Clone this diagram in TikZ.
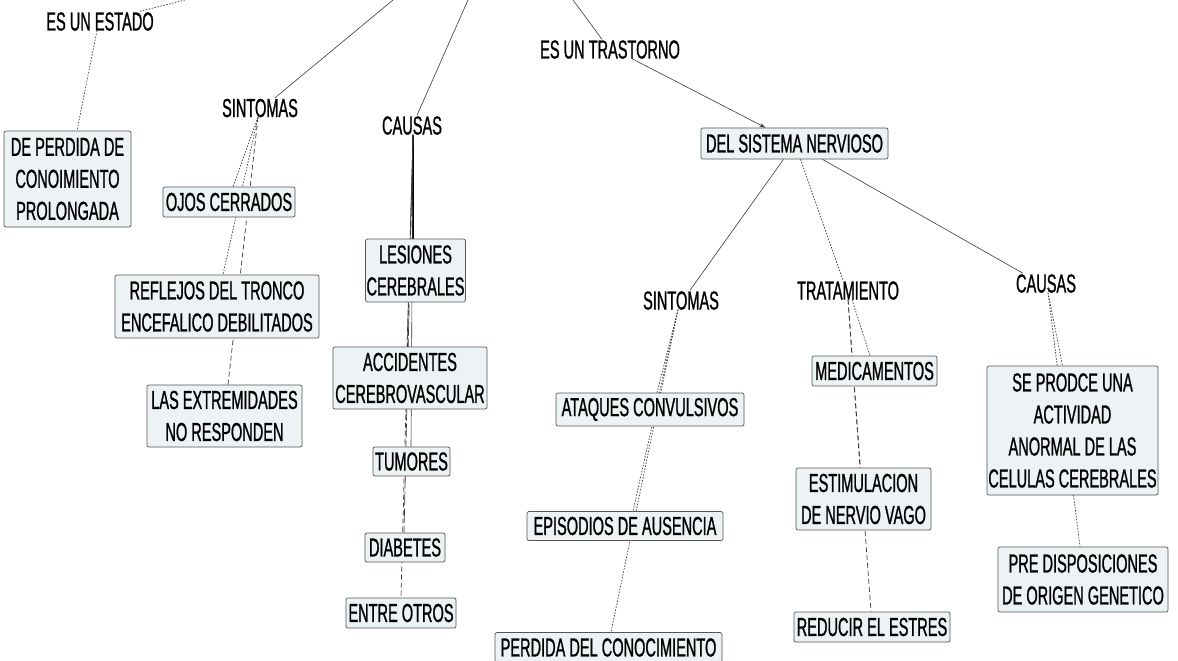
\documentclass[tikz,border=0pt]{standalone}
\usepackage{fontspec}
\setmainfont{Liberation Sans}[FakeStretch=0.56,FakeBold=0.9]
\usetikzlibrary{arrows.meta}
\pgfdeclarelayer{bg}
\pgfdeclarelayer{lines}
\pgfsetlayers{bg,lines,main}
\definecolor{boxfill}{HTML}{EDF2F4}
\definecolor{boxline}{HTML}{555555}
\definecolor{conline}{HTML}{3A3A3A}
\tikzset{
  lbl/.style={inner sep=0pt, text height=19pt, text depth=0pt, font=\fontsize{26}{32}\selectfont},
  bx/.style={draw=boxline, fill=boxfill, rounded corners=2pt, line width=0.7pt, inner sep=1pt,
             align=center, font=\fontsize{26}{32}\selectfont},
  csolid/.style={draw=conline, line width=0.6pt},
  cthick/.style={draw=black, line width=1.3pt},
  cdot/.style={draw=conline, line width=0.7pt, dash pattern=on 1.5pt off 1.5pt},
  cdash/.style={draw=conline, line width=0.7pt, dash pattern=on 5pt off 3pt},
  clong/.style={draw=conline, line width=0.7pt, dash pattern=on 14pt off 3pt},
}
\begin{document}
\begin{tikzpicture}[x=1pt,y=-1pt]
\useasboundingbox (0,0) rectangle (1178,661);
\begin{pgfonlayer}{bg}
\fill[white] (0,0) rectangle (1178,661);
\end{pgfonlayer}
% free ends at the top edge
\coordinate (t1) at (185,0);
\coordinate (t2) at (393,0);
\coordinate (t3) at (468,0);
\coordinate (t4) at (573,0);
% plain labels
\node[lbl] (estado) at (100,21) {ES UN ESTADO};
\node[lbl] (sintL) at (260,107.5) {SINTOMAS};
\node[lbl] (causL) at (412,125) {CAUSAS};
\node[lbl] (trast) at (610,49) {ES UN TRASTORNO};
\node[lbl] (sintR) at (681,300) {SINTOMAS};
\node[lbl] (trat) at (848,290) {TRATAMIENTO};
\node[lbl] (causR) at (1046,283) {CAUSAS};
% boxes
\node[bx, minimum width=127pt, minimum height=96pt] (deperd) at (67.5,179) {DE PERDIDA DE\\CONOIMIENTO\\PROLONGADA};
\node[bx, minimum width=132pt, minimum height=30pt] (ojos) at (229,202) {OJOS CERRADOS};
\node[bx, minimum width=204pt, minimum height=63pt] (refl) at (217,306.5) {REFLEJOS DEL TRONCO\\ENCEFALICO DEBILITADOS};
\node[bx, minimum width=155pt, minimum height=62pt] (extr) at (224.5,416) {LAS EXTREMIDADES\\NO RESPONDEN};
\node[bx, minimum width=99pt, minimum height=63pt] (les) at (415.5,270.5) {LESIONES\\CEREBRALES};
\node[bx, minimum width=154pt, minimum height=62pt] (acc) at (410,378) {ACCIDENTES\\CEREBROVASCULAR};
\node[bx, minimum width=77pt, minimum height=29pt] (tum) at (411.5,461.5) {TUMORES};
\node[bx, minimum width=80pt, minimum height=29pt] (dia) at (405,547.5) {DIABETES};
\node[bx, minimum width=110pt, minimum height=30pt] (entre) at (401,613) {ENTRE OTROS};
\node[bx, minimum width=187pt, minimum height=31pt] (sist) at (794.5,143.5) {DEL SISTEMA NERVIOSO};
\node[bx, minimum width=188pt, minimum height=33pt] (ataq) at (650,409.5) {ATAQUES CONVULSIVOS};
\node[bx, minimum width=196pt, minimum height=29pt] (epis) at (625,526) {EPISODIOS DE AUSENCIA};
\node[bx, minimum width=227pt, minimum height=30pt] (perd) at (608.5,647.5) {PERDIDA DEL CONOCIMIENTO};
\node[bx, minimum width=125pt, minimum height=30pt] (medic) at (874.5,371) {MEDICAMENTOS};
\node[bx, minimum width=135pt, minimum height=62pt] (estim) at (863.5,499) {ESTIMULACION\\DE NERVIO VAGO};
\node[bx, minimum width=156pt, minimum height=30pt] (reduc) at (872,627) {REDUCIR EL ESTRES};
\node[bx, minimum width=171pt, minimum height=129pt] (seprod) at (1072.5,430.5) {SE PRODCE UNA\\ACTIVIDAD\\ANORMAL DE LAS\\CELULAS CEREBRALES};
\node[bx, minimum width=170pt, minimum height=65pt] (predis) at (1083,579.5) {PRE DISPOSICIONES\\DE ORIGEN GENETICO};
% connectors
\begin{pgfonlayer}{lines}
\draw[cdot] ([xshift=40pt]estado.north) -- (t1);
\draw[csolid] ([xshift=15pt]sintL.north) -- (t2);
\draw[csolid] ([xshift=5pt]causL.north) -- (t3);
\draw[csolid] ([xshift=-8pt]trast.north) -- (t4);
\draw[cdot] ([xshift=-3pt]estado.south) -- ([xshift=9.5pt]deperd.north);
% left SINTOMAS
\draw[cdot] ([xshift=-2pt]sintL.south) -- ([xshift=4pt]ojos.north);
\draw[cdot] ([xshift=-2pt]sintL.south) -- ([xshift=6pt]refl.north);
\draw[cdash] ([xshift=-2pt]sintL.south) -- ([xshift=3.5pt]extr.north);
% left CAUSAS
\draw[cthick] ([xshift=1pt]causL.south) -- ([xshift=-2.5pt]les.north);
\draw[csolid] ([xshift=1pt]causL.south) -- ([xshift=-3pt]acc.north);
\draw[csolid] ([xshift=1pt]causL.south) -- ([xshift=-0.5pt]tum.north);
\draw[clong] ([xshift=1pt]causL.south) -- ([xshift=-1pt]dia.north);
\draw[cdash] ([xshift=1pt]causL.south) -- (entre.north);
% ES UN TRASTORNO
\draw[csolid, -{Stealth[length=6pt,width=4pt]}] ([xshift=22pt]trast.south) -- ([xshift=-29pt]sist.north);
\draw[csolid] ([xshift=-11pt]sist.south) -- ([xshift=9pt]sintR.north);
\draw[cdot] ([xshift=6pt]sist.south) -- ([xshift=-5pt]trat.north);
\draw[csolid] ([xshift=28pt]sist.south) -- ([xshift=-23pt]causR.north);
% right SINTOMAS
\draw[cdot] ([xshift=-3pt]sintR.south) -- ([xshift=7pt]ataq.north);
\draw[cdot] ([xshift=-3pt]sintR.south) -- ([xshift=8pt]epis.north);
\draw[cdot] ([xshift=-3pt]sintR.south) -- ([xshift=2.5pt]perd.north);
% TRATAMIENTO
\draw[cdot] ([xshift=4pt]trat.south) -- ([xshift=-4.5pt]medic.north);
\draw[cdash] (trat.south) -- ([xshift=-3.5pt]estim.north);
\draw[cdash] (trat.south) -- ([xshift=-1pt]reduc.north);
% right CAUSAS
\draw[cdot] ([xshift=2pt]causR.south) -- ([xshift=-10pt]seprod.north);
\draw[cdot] ([xshift=2pt]causR.south) -- ([xshift=-3pt]predis.north);
\end{pgfonlayer}
\end{tikzpicture}
\end{document}
